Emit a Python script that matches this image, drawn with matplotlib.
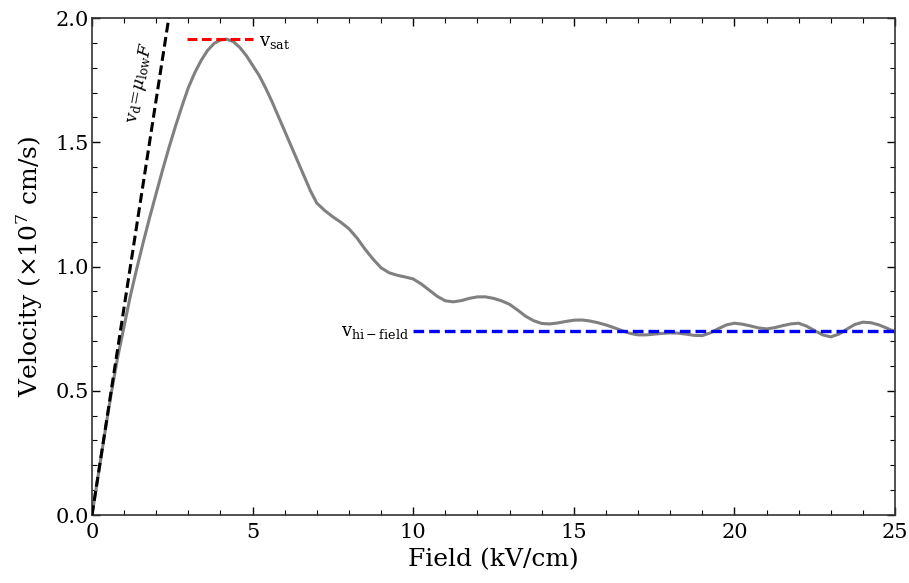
import matplotlib
matplotlib.use("Agg")
import matplotlib.pyplot as plt
from matplotlib.ticker import MultipleLocator, FormatStrFormatter

# velocity-field curve
field = [0.0, 0.2, 0.4, 0.6, 0.8, 1.0, 1.2, 1.4, 1.6, 1.8, 2.0, 2.2, 2.4, 2.6,
         2.8, 3.0, 3.2, 3.4, 3.6, 3.8, 4.0, 4.2, 4.4, 4.6, 4.8, 5.0, 5.2, 5.4,
         5.6, 5.8, 6.0, 6.2, 6.4, 6.6, 6.8, 7.0, 7.25, 7.5, 7.75, 8.0, 8.25,
         8.5, 8.75, 9.0, 9.25, 9.5, 9.75, 10.0, 10.25, 10.5, 10.75, 11.0,
         11.25, 11.5, 11.75, 12.0, 12.25, 12.5, 12.75, 13.0, 13.25, 13.5,
         13.75, 14.0, 14.25, 14.5, 14.75, 15.0, 15.25, 15.5, 15.75, 16.0,
         16.25, 16.5, 16.75, 17.0, 17.25, 17.5, 17.75, 18.0, 18.25, 18.5,
         18.75, 19.0, 19.25, 19.5, 19.75, 20.0, 20.25, 20.5, 20.75, 21.0,
         21.25, 21.5, 21.75, 22.0, 22.25, 22.5, 22.75, 23.0, 23.25, 23.5,
         23.75, 24.0, 24.25, 24.5, 24.75, 25.0]
velocity = [0.0, 0.165, 0.33, 0.49, 0.635, 0.76, 0.885, 0.995, 1.1, 1.2,
            1.295, 1.39, 1.48, 1.565, 1.645, 1.72, 1.78, 1.83, 1.87, 1.898,
            1.912, 1.915, 1.905, 1.882, 1.85, 1.81, 1.77, 1.72, 1.665, 1.605,
            1.545, 1.485, 1.425, 1.365, 1.305, 1.255, 1.225, 1.2, 1.178, 1.152,
            1.115, 1.07, 1.03, 0.995, 0.975, 0.965, 0.958, 0.95, 0.93, 0.905,
            0.88, 0.862, 0.858, 0.863, 0.872, 0.878, 0.878, 0.872, 0.862,
            0.848, 0.825, 0.8, 0.782, 0.771, 0.769, 0.773, 0.779, 0.784,
            0.785, 0.781, 0.774, 0.765, 0.754, 0.742, 0.731, 0.725, 0.725,
            0.728, 0.731, 0.733, 0.732, 0.728, 0.723, 0.722, 0.733, 0.75,
            0.765, 0.772, 0.768, 0.761, 0.753, 0.749, 0.754, 0.762, 0.769,
            0.772, 0.76, 0.742, 0.725, 0.717, 0.728, 0.748, 0.767, 0.776,
            0.774, 0.765, 0.752, 0.737]

# low-field mobility line, saturation and high-field reference lines
lowfield_x = [0.0, 2.45]
lowfield_y = [0.0, 2.05]
sat_x = [2.95, 5.0]
sat_y = [1.915, 1.915]
hifield_x = [10.0, 25.0]
hifield_y = [0.74, 0.74]

plt.rcParams['font.family'] = ['DejaVu Serif']
plt.rcParams['mathtext.fontset'] = 'dejavuserif'

fig = plt.figure(figsize=(9.09, 5.83), dpi=100)
ax = fig.add_axes([0.1012, 0.1166, 0.8834, 0.8524])

ax.plot(field, velocity, color='#808080', lw=2.2, zorder=2)
ax.plot(lowfield_x, lowfield_y, color='black', lw=2.2, ls=(0, (3.2, 1.5)), zorder=3)
ax.plot(sat_x, sat_y, color='red', lw=2.2, ls=(0, (3.2, 1.5)), zorder=3)
ax.plot(hifield_x, hifield_y, color='blue', lw=2.4, ls=(0, (3.2, 1.5)), zorder=3)

ax.text(5.2, 1.905, r'$\mathrm{v}_{\mathrm{sat}}$', fontsize=13, va='center', ha='left')
ax.text(9.85, 0.735, r'$\mathrm{v}_{\mathrm{hi-field}}$', fontsize=13, va='center', ha='right')
ax.text(1.5, 1.74, r'$\mathrm{v}_{\mathrm{d}}\!=\!\mu_{\mathrm{low}}F$', fontsize=12.5,
        rotation=79, ha='center', va='center')

ax.set_xlim(0, 25)
ax.set_ylim(0, 2.0)
ax.xaxis.set_major_locator(MultipleLocator(5))
ax.xaxis.set_minor_locator(MultipleLocator(1))
ax.yaxis.set_major_locator(MultipleLocator(0.5))
ax.yaxis.set_minor_locator(MultipleLocator(0.1))
ax.yaxis.set_major_formatter(FormatStrFormatter('%.1f'))
ax.tick_params(which='both', direction='in', top=True, right=True, labelsize=15)
ax.tick_params(which='major', length=6, width=1)
ax.tick_params(which='minor', length=3.5, width=0.8)
ax.tick_params(axis='x', pad=6)
ax.tick_params(axis='y', pad=2)
for s in ax.spines.values():
    s.set_linewidth(1.2)
    s.set_color('#333333')

ax.set_xlabel('Field (kV/cm)', fontsize=18, labelpad=4)
ax.set_ylabel(r'Velocity ($\times10^{7}$ cm/s)', fontsize=18, labelpad=8)

fig.savefig('out.png', dpi=100)
